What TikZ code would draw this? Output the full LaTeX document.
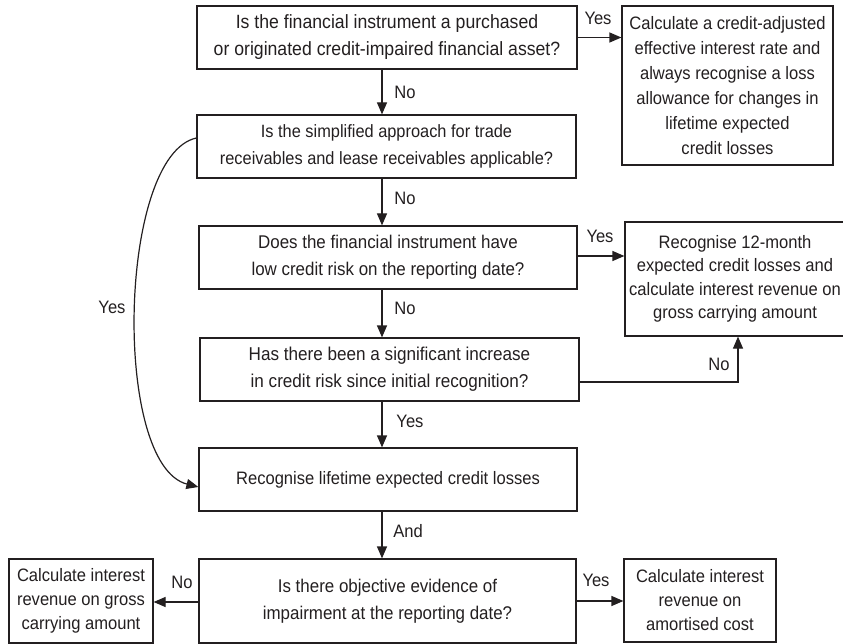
\documentclass[tikz,border=0pt]{standalone}
\usepackage{fontspec}
\setmainfont[FakeStretch=0.92]{Liberation Sans}
\usetikzlibrary{arrows.meta}
\definecolor{ink}{HTML}{231F20}
\tikzset{
  box/.style={draw=ink, line width=1.2pt, rectangle, inner sep=0pt, align=center,
    text=ink, font=\fontsize{18}{25}\selectfont},
  arr/.style={draw=ink, line width=1.2pt, -{Triangle[length=12pt,width=10pt]}},
  lbl/.style={text=ink, font=\fontsize{18}{22}\selectfont, inner sep=0pt},
}
\begin{document}
\begin{tikzpicture}[x=1pt,y=-1pt]
\useasboundingbox (0,0) rectangle (843,644);
% main column
\node[box, minimum width=380pt, minimum height=63pt, font=\fontsize{19.2}{27}\selectfont] (b1) at (387,37.5)
  {Is the financial instrument a purchased\\or originated credit-impaired financial asset?};
\node[box, minimum width=379pt, minimum height=63pt, font=\fontsize{17.8}{27}\selectfont] (b2) at (386.5,146.5)
  {Is the simplified approach for trade\\receivables and lease receivables applicable?};
\node[box, minimum width=378pt, minimum height=63pt, font=\fontsize{18.4}{27}\selectfont] (b3) at (388,257.5)
  {Does the financial instrument have\\low credit risk on the reporting date?};
\node[box, minimum width=379pt, minimum height=63pt, font=\fontsize{18.6}{27}\selectfont] (b4) at (389.5,369.5)
  {Has there been a significant increase\\in credit risk since initial recognition?};
\node[box, minimum width=378pt, minimum height=63pt] (b5) at (388,479.5)
  {Recognise lifetime expected credit losses};
\node[box, minimum width=377pt, minimum height=84pt, font=\fontsize{18.4}{27}\selectfont] (b6) at (387.5,601)
  {Is there objective evidence of\\impairment at the reporting date?};
% side boxes
\node[box, minimum width=211pt, minimum height=159pt] (r1) at (727.5,85.5)
  {Calculate a credit-adjusted\\effective interest rate and\\always recognise a loss\\allowance for changes in\\lifetime expected\\credit losses};
\node[box, minimum width=220pt, minimum height=114pt, font=\fontsize{18}{23.5}\selectfont] (r2) at (735,279)
  {Recognise 12-month\\expected credit losses and\\calculate interest revenue on\\gross carrying amount};
\node[box, minimum width=144pt, minimum height=84pt, font=\fontsize{18}{24}\selectfont] (l1) at (81,601)
  {Calculate interest\\revenue on gross\\carrying amount};
\node[box, minimum width=152pt, minimum height=83pt, font=\fontsize{18}{24}\selectfont] (r3) at (700,600.5)
  {Calculate interest\\revenue on\\amortised cost};
% helper coordinates
\coordinate (spine) at (382,0);
\coordinate (nox) at (738,0);
% vertical arrows
\draw[arr] (spine |- b1.south) -- (spine |- b2.north);
\draw[arr] (spine |- b2.south) -- (spine |- b3.north);
\draw[arr] (spine |- b3.south) -- (spine |- b4.north);
\draw[arr] (spine |- b4.south) -- (spine |- b5.north);
\draw[arr] (spine |- b5.south) -- (spine |- b6.north);
% horizontal arrows
\draw[arr] (b1.east) -- (b1.east -| r1.west);
\draw[arr] ([yshift=1.5pt]b3.east) -- ([yshift=1.5pt]b3.east -| r2.west);
\draw[arr] ([yshift=-12.5pt]b4.east) -- ([yshift=-12.5pt]b4.east -| nox) -- (nox |- r2.south);
\draw[arr] ([yshift=-1pt]b6.west) -- ([yshift=-1pt]b6.west -| l1.east);
\draw[arr] (b6.east) -- (b6.east -| r3.west);
% curved Yes
\draw[arr] ([yshift=8.5pt]b2.west) .. controls (118,155) and (112,465) .. ([yshift=-7.5pt]b5.west);
% labels
\node[lbl] (t1) at (598,18) {Yes};
\node[lbl] (t2) at (405,92) {No};
\node[lbl] (t3) at (405,198) {No};
\node[lbl] (t4) at (600,236) {Yes};
\node[lbl] (t5) at (405,308) {No};
\node[lbl] (t6) at (410,421) {Yes};
\node[lbl] (t7) at (408,531) {And};
\node[lbl] (t8) at (719,364) {No};
\node[lbl] (t9) at (112,307) {Yes};
\node[lbl] (t10) at (182,582) {No};
\node[lbl] (t11) at (596,580) {Yes};
\end{tikzpicture}
\end{document}
